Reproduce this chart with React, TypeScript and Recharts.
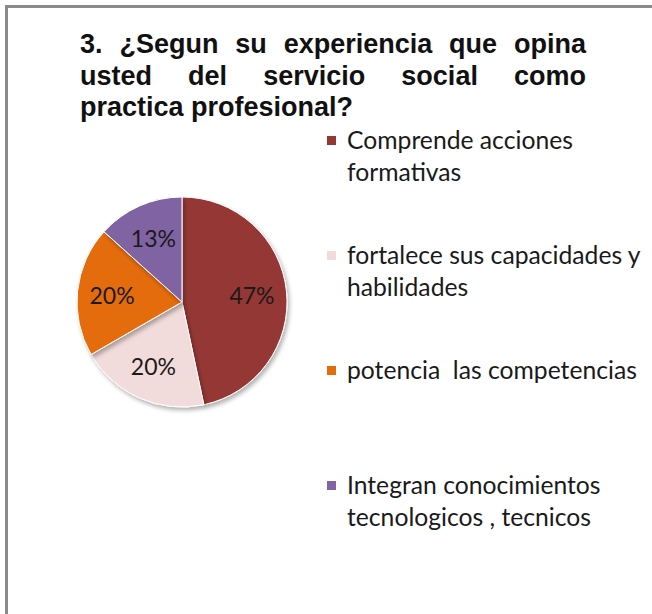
import { PieChart, Pie, Cell } from 'recharts';

const categories = [
  'Comprende acciones formativas',
  'fortalece sus capacidades y habilidades',
  'potencia  las competencias',
  'Integran conocimientos tecnologicos , tecnicos',
];
const responses = [7, 3, 3, 2];
const colors = ['#953735', '#F2DCDB', '#E46C0A', '#8064A2'];
const titleLines = ['3. ¿Segun su experiencia que opina', 'usted del servicio social como', 'practica profesional?'];

const data = categories.map((name, i) => ({ name, value: responses[i] }));

const RAD = Math.PI / 180;

function renderLabel(p: any) {
  const r = p.outerRadius * 0.67;
  const x = p.cx + r * Math.cos(-p.midAngle * RAD);
  const y = p.cy + r * Math.sin(-p.midAngle * RAD);
  return (
    <text x={x} y={y} textAnchor="middle" dominantBaseline="central" fill="#1a1a1a" fontSize={23} fontFamily="Lato, sans-serif">
      {`${Math.round(p.percent * 100)}%`}
    </text>
  );
}

export default function App() {
  return (
    <div style={{ position: 'absolute', left: 0, top: 0, width: 652, height: 614, background: '#fff', overflow: 'hidden' }}>
      <div style={{ position: 'absolute', left: 5, top: 5, width: 700, height: 700, borderLeft: '3px solid #8a8a8a', borderTop: '3px solid #8a8a8a' }} />
      <div
        style={{
          position: 'absolute', left: 80, top: 29, width: 506,
          fontFamily: '"Liberation Sans", Arial, sans-serif', fontWeight: 'bold', fontSize: 27,
          lineHeight: '31.5px', color: '#111',
        }}
      >
        {titleLines.map((t, i) => (
          <div key={i} style={{ textAlign: 'justify', textAlignLast: i < titleLines.length - 1 ? 'justify' : 'left' }}>
            {t}
          </div>
        ))}
      </div>
      <PieChart width={652} height={614} margin={{ top: 0, right: 0, bottom: 0, left: 0 }} style={{ position: 'absolute', left: 0, top: 0 }}>
        <defs>
          <filter id="sh" x="-20%" y="-20%" width="140%" height="140%">
            <feDropShadow dx="2" dy="3" stdDeviation="2" floodColor="#000" floodOpacity="0.3" />
          </filter>
        </defs>
        <Pie
          data={data}
          dataKey="value"
          nameKey="name"
          cx={182}
          cy={302}
          outerRadius={105}
          startAngle={90}
          endAngle={-270}
          stroke="#ffffff"
          strokeWidth={1}
          label={renderLabel}
          labelLine={false}
          isAnimationActive={false}
          style={{ filter: 'url(#sh)' }}
        >
          {data.map((d, i) => (
            <Cell key={d.name} fill={colors[i]} />
          ))}
        </Pie>
      </PieChart>
      {/* legend: fixed 115px pitch like the original */}
      <div style={{ position: 'absolute', left: 327, top: 124, width: 325, fontFamily: 'Lato, sans-serif', fontSize: 24.7, color: '#1a1a1a', lineHeight: '32px' }}>
        {data.map((d, i) => (
          <div key={d.name} style={{ position: 'relative', height: 115, paddingLeft: 20, whiteSpace: 'pre-wrap' }}>
            <span style={{ position: 'absolute', left: 0, top: 12, width: 9, height: 9, background: colors[i] }} />
            {d.name}
          </div>
        ))}
      </div>
    </div>
  );
}
